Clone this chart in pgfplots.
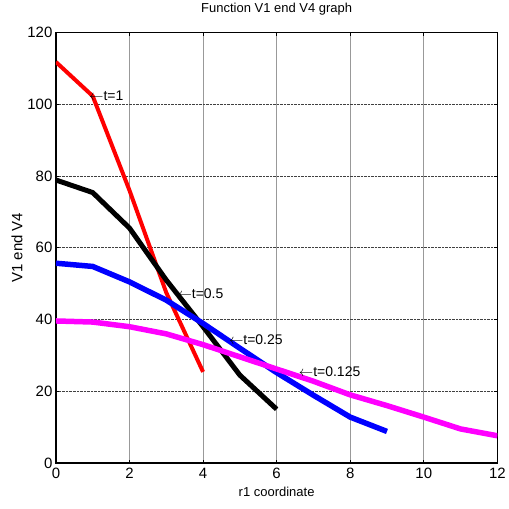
\documentclass[border=0pt]{standalone}
\usepackage{fontspec}
\setmainfont{Liberation Sans}
\usepackage{pgfplots}
\pgfplotsset{compat=1.18}
\definecolor{mred}{RGB}{255,0,0}
\definecolor{mblue}{RGB}{0,0,255}
\definecolor{mmag}{RGB}{255,0,255}

\begin{document}
\begin{tikzpicture}
\begin{axis}[
    scale only axis,
    width=442pt, height=431pt,
    xmin=0, xmax=12, ymin=0, ymax=120,
    xtick={0,2,...,12},
    ytick={0,20,...,120},
    grid=major,
    x grid style={black!40, line width=0.6pt},
    y grid style={black!75, densely dotted, line width=0.6pt},
    axis line style={line width=1.2pt},
    tick align=inside,
    major tick length=3pt,
    tick style={black, line width=0.8pt},
    tick label style={font=\fontsize{15}{17}\selectfont},
    xticklabel style={yshift=-2pt},
    yticklabel style={xshift=0pt},
    /pgf/number format/assume math mode=true,
    title={Function V1 end V4 graph},
    title style={font=\fontsize{13}{15}\selectfont, at={(axis description cs:0.5,1.04)}, anchor=center},
    xlabel={r1 coordinate},
    xlabel style={font=\fontsize{13}{15}\selectfont, at={(axis description cs:0.5,-0.067)}, anchor=center},
    ylabel={V1 end V4},
    ylabel style={font=\fontsize{15}{17}\selectfont, at={(axis description cs:-0.088,0.5)}, anchor=center},
]
% t=1
\addplot[mred, line width=4pt] coordinates {
    (0,111.8)(1,102.3)(2,76)(3,47.5)(4,25.4)
};
% t=0.5
\addplot[black, line width=5pt] coordinates {
    (0,78.9)(1,75.4)(2,65.5)(3,51)(4,38)(5,24.5)(6,15)
};
% t=0.25
\addplot[mblue, line width=5.5pt] coordinates {
    (0,55.7)(1,54.8)(2,50.5)(3,45.4)(4,38.9)(5,32)(6,25.2)(7,18.9)(8,12.8)(9,8.8)
};
% t=0.125
\addplot[mmag, line width=5.5pt] coordinates {
    (0,39.6)(1,39.3)(2,38)(3,36)(4,33)(5,29.6)(6,26.2)(7,22.8)(8,19)(9,16)(10,12.8)(11,9.5)(12,7.6)
};

\node[anchor=west, inner sep=0pt, font=\fontsize{14}{16}\selectfont] at (axis cs:0.9,102.3) {$\leftarrow$t=1};
\node[anchor=west, inner sep=0pt, font=\fontsize{14}{16}\selectfont] at (axis cs:3.3,47.2) {$\leftarrow$t=0.5};
\node[anchor=west, inner sep=0pt, font=\fontsize{14}{16}\selectfont] at (axis cs:4.7,34.4) {$\leftarrow$t=0.25};
\node[anchor=west, inner sep=0pt, font=\fontsize{14}{16}\selectfont] at (axis cs:6.6,25.4) {$\leftarrow$t=0.125};

\coordinate (sw) at (rel axis cs:0,0);
\coordinate (ne) at (rel axis cs:1,1);
\end{axis}
\path ([shift={(-56pt,-46pt)}]sw) rectangle ([shift={(9pt,32pt)}]ne);
\end{tikzpicture}
\end{document}
